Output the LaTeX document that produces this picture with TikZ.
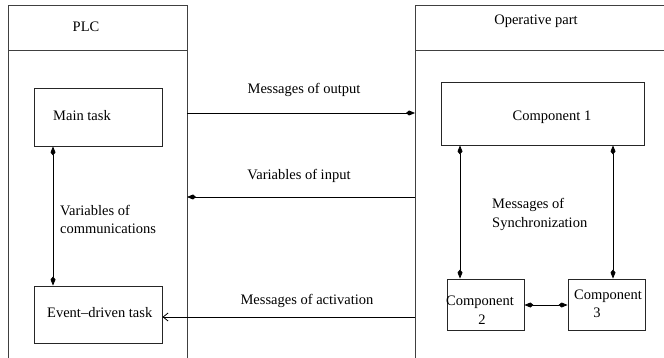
\documentclass[tikz,border=0pt]{standalone}
\usepackage{fontspec}
\setmainfont{Liberation Serif}
\usetikzlibrary{arrows.meta}
\begin{document}
\begin{tikzpicture}[x=1pt,y=-1pt,
  frame/.style={draw=black!75, line width=0.9pt},
  box/.style={draw=black!85, line width=0.9pt, inner sep=0pt},
  lbl/.style={inner sep=0pt, font=\fontsize{14.5}{18}\selectfont},
  conn/.style={draw=black, line width=0.8pt},
  kt/.style={-{Kite[length=9pt,width=5pt,inset=3pt]}},
  kt2/.style={{Kite[length=9pt,width=5pt,inset=3pt]}-{Kite[length=9pt,width=5pt,inset=3pt]}},
  op/.style={-{Straight Barb[length=5pt,width=8pt]}}]
\useasboundingbox (0,0) rectangle (664,358);
% frames
\draw[frame] (8,360) -- (8,5) -- (187,5) -- (187,360);
\draw[frame] (8,50) -- (187,50);
\draw[frame] (666,5) -- (415,5) -- (415,360);
\draw[frame] (415,50) -- (666,50);
\node[lbl] (plc) at (86,27) {PLC};
\node[lbl] (op) at (536,21) {Operative part};
% boxes
\node[box, minimum width=128pt, minimum height=58pt] (main) at (98,117) {};
\node[box, minimum width=128pt, minimum height=57pt] (event) at (98,314.5) {};
\node[box, minimum width=203pt, minimum height=63pt] (c1) at (542.5,113.5) {};
\node[box, minimum width=77pt, minimum height=51pt] (c2) at (485.5,304.5) {};
\node[box, minimum width=77pt, minimum height=51pt] (c3) at (606.5,304.5) {};
% box texts
\node[lbl, anchor=base west] at (53,121) {Main task};
\node[lbl, anchor=base west] at (47,317) {Event\textendash driven task};
\node[lbl, anchor=base] at (552,121) {Component 1};
\node[lbl, anchor=base west] at (446,305) {Component};
\node[lbl, anchor=base] at (482,324) {2};
\node[lbl, anchor=base west] at (574,299) {Component};
\node[lbl, anchor=base] at (597,317) {3};
% connector end points
\coordinate (outL) at (187,113);
\coordinate (outR) at (415,113);
\coordinate (inR) at (415,197);
\coordinate (inL) at (187,197);
\coordinate (actR) at (415,317);
% connectors
\draw[conn, kt] (outL) -- (outR);
\draw[conn, kt] (inR) -- (inL);
\draw[conn, op] (actR) -- (event.east |- actR);
\draw[conn, kt2] (main.south -| 53,0) -- (event.north -| 53,0);
\draw[conn, kt2] (c1.south -| 460,0) -- (c2.north -| 460,0);
\draw[conn, kt2] (c1.south -| 613,0) -- (c3.north -| 613,0);
\draw[conn, kt2] (c2.east |- 0,305) -- (c3.west |- 0,305);
% connector labels
\node[lbl, anchor=base] at (304,94) {Messages of output};
\node[lbl, anchor=base] at (299,180) {Variables of input};
\node[lbl, anchor=base] at (307,304) {Messages of activation};
\node[lbl, anchor=base west, align=left] at (60,216) {Variables of};
\node[lbl, anchor=base west] at (60,234) {communications};
\node[lbl, anchor=base west] at (492,209) {Messages of};
\node[lbl, anchor=base west] at (492,228) {Synchronization};
\end{tikzpicture}
\end{document}
